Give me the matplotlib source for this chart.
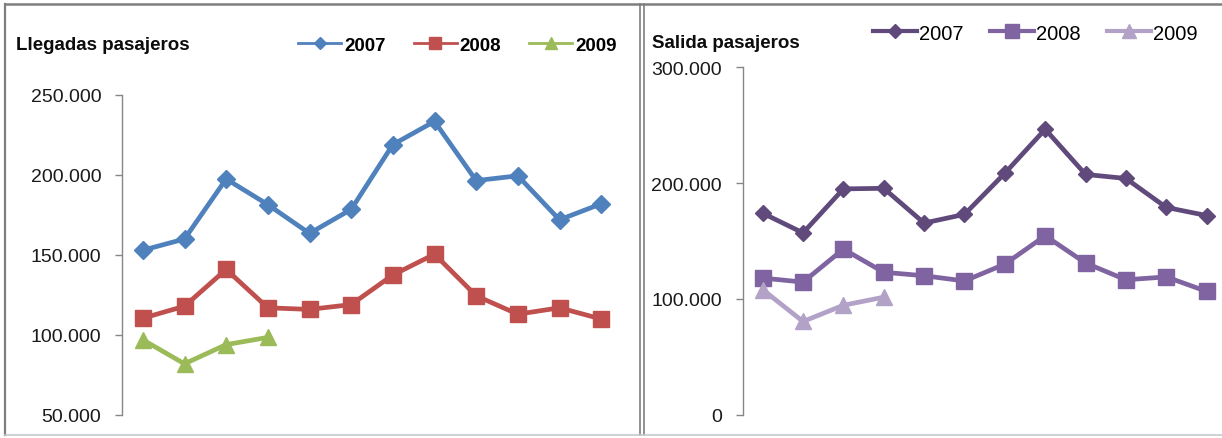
import matplotlib
matplotlib.use("Agg")
import matplotlib.pyplot as plt
from matplotlib.ticker import FuncFormatter
from matplotlib.lines import Line2D
import numpy as np

# --------------------
# datos (pasajeros por mes)
meses = np.arange(12)

llegadas_2007 = [153000, 160000, 197500, 181500, 163500, 178500, 219000, 233500, 196500, 199500, 172000, 182000]
llegadas_2008 = [110500, 118000, 141000, 117000, 116000, 119000, 137500, 150500, 124500, 113000, 117000, 110000]
llegadas_2009 = [97000, 82000, 94000, 98500]

salida_2007 = [174000, 157000, 195000, 195500, 165500, 173000, 208500, 246500, 207500, 204000, 179000, 172000]
salida_2008 = [118000, 114500, 143000, 123000, 120000, 115500, 130000, 154500, 131000, 116500, 119000, 106500]
salida_2009 = [108000, 80500, 94500, 101500]

anios = ["2007", "2008", "2009"]

# --------------------
plt.rcParams["font.family"] = ["Liberation Sans", "DejaVu Sans"]
fs_tick, fs_title, fs_leg_l, fs_leg_r = 14, 13.5, 13.5, 14.5

W, H = 1222, 439
fig = plt.figure(figsize=(W / 100, H / 100), dpi=100)


def caja(x0, y0, x1, y1):
    # rect en pixeles (origen arriba a la izquierda) -> coords de figura
    return [x0 / W, 1 - y1 / H, (x1 - x0) / W, (y1 - y0) / H]


fmt = FuncFormatter(lambda v, p: "0" if v == 0 else f"{int(v):,}".replace(",", "."))


def estilo_ejes(ax, ylim, yticks):
    ax.set_xlim(-0.5, 11.5)
    ax.set_ylim(*ylim)
    ax.set_yticks(yticks)
    ax.yaxis.set_major_formatter(fmt)
    ax.set_xticks([])
    for s in ["top", "right", "bottom"]:
        ax.spines[s].set_visible(False)
    ax.spines["left"].set_color("#868686")
    ax.spines["left"].set_linewidth(1.0)
    ax.tick_params(axis="y", direction="out", length=5, width=1, color="#868686",
                   labelsize=fs_tick, labelcolor="#1a1a1a", pad=10)
    ax.patch.set_alpha(0)


# --------------------
# panel izquierdo: llegadas
ax1 = fig.add_axes(caja(122, 96, 622, 416))
c1 = ["#4F81BD", "#C0504D", "#9BBB59"]
ax1.plot(meses, llegadas_2007, color=c1[0], lw=3.4, marker="D", ms=9, label=anios[0])
ax1.plot(meses, llegadas_2008, color=c1[1], lw=3.4, marker="s", ms=11, label=anios[1])
ax1.plot(meses[:len(llegadas_2009)], llegadas_2009, color=c1[2], lw=3.4, marker="^", ms=11.5, label=anios[2])
estilo_ejes(ax1, (50000, 250000), np.arange(50000, 250001, 50000))

fig.text(16 / W, 1 - 46 / H, "Llegadas pasajeros", fontsize=fs_title, fontweight="bold",
         va="center", ha="left", color="#0d0d0d")
leg1 = ax1.legend(loc="center left", bbox_to_anchor=((298 - 122) / 500, (416 - 46) / 320),
                  ncol=3, frameon=False, handlelength=2.3,
                  handletextpad=0.15, columnspacing=1.5, borderaxespad=0, borderpad=0,
                  prop={"weight": "bold", "size": fs_leg_l})
for h, ms in zip(leg1.legend_handles, [6.5, 8.5, 9]):
    h.set_markersize(ms)
    h.set_linewidth(2)

# --------------------
# panel derecho: salida
ax2 = fig.add_axes(caja(742.5, 68.3, 1226.8, 415.7))
c2 = ["#604A7B", "#8064A2", "#B3A2C7"]
ax2.plot(meses, salida_2007, color=c2[0], lw=3.4, marker="D", ms=8.5, label=anios[0])
ax2.plot(meses, salida_2008, color=c2[1], lw=3.4, marker="s", ms=12, label=anios[1])
ax2.plot(meses[:len(salida_2009)], salida_2009, color=c2[2], lw=3.4, marker="^", ms=11.5, label=anios[2])
estilo_ejes(ax2, (0, 300000), np.arange(0, 300001, 100000))

fig.text(652 / W, 1 - 43 / H, "Salida pasajeros", fontsize=fs_title, fontweight="bold",
         va="center", ha="left", color="#0d0d0d")
leg2 = ax2.legend(loc="center left", bbox_to_anchor=((873 - 742.5) / 484.3, (415.7 - 34) / 347.4),
                  ncol=3, frameon=False, handlelength=2.2,
                  handletextpad=0.1, columnspacing=1.3, borderaxespad=0, borderpad=0,
                  prop={"size": fs_leg_r})
for h, ms in zip(leg2.legend_handles, [7, 10, 10]):
    h.set_markersize(ms)
    h.set_linewidth(3)

# --------------------
# marcos de los graficos
def linea(xs, ys, color, lw):
    fig.add_artist(Line2D([x / W for x in xs], [1 - y / H for y in ys],
                          color=color, lw=lw, transform=fig.transFigure))


linea([5, 5], [5, 436], "#7f7f7f", 1.6)
linea([5, 1222], [5, 5], "#7f7f7f", 1.8)
linea([640, 640], [5, 436], "#7f7f7f", 1.2)
linea([643.5, 643.5], [5, 436], "#7f7f7f", 1.2)
linea([5, 1222], [435.5, 435.5], "#c8c8c8", 1.2)

plt.savefig("out.png", dpi=100)
plt.close()
